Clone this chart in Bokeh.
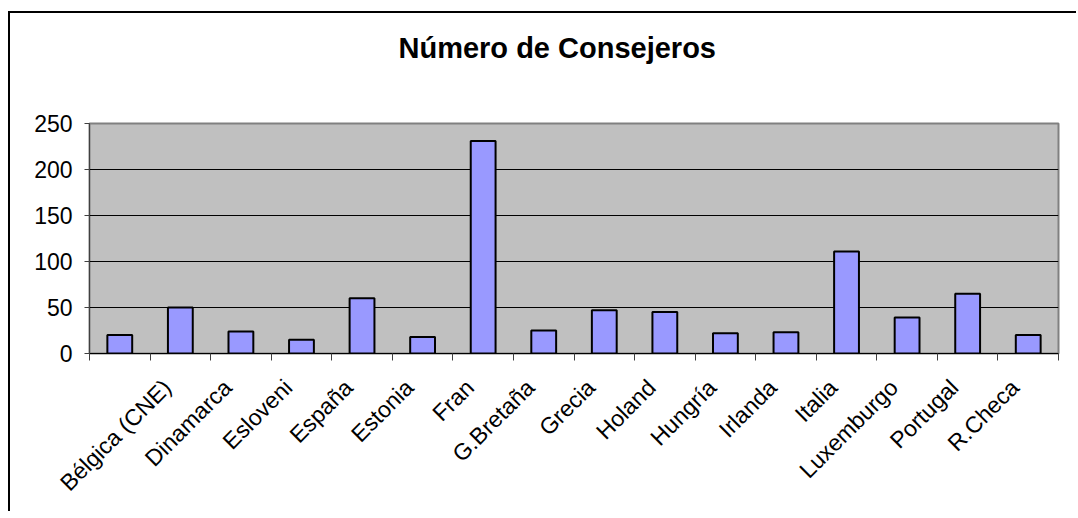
import math
from bokeh.plotting import figure
from bokeh.layouts import column
from bokeh.models import Range1d, LinearAxis, FixedTicker, ColumnDataSource, Title
from bokeh.embed import file_html
from bokeh.resources import INLINE

# ---- data ----
categories = [" ", "Bélgica (CNE)", "Dinamarca", "Esloveni", "España", "Estonia",
              "Fran", "G.Bretaña", "Grecia", "Holand", "Hungría", "Irlanda",
              "Italia", "Luxemburgo", "Portugal", "R.Checa"]
values = [20, 50, 24, 15, 60, 18, 231, 25, 47, 45, 22, 23, 111, 39, 65, 20]
y_ticks = [0, 50, 100, 150, 200, 250]
title_text = "Número de Consejeros"

FONT = "Liberation Sans"
n = len(categories)
centers = [i + 0.5 for i in range(n)]
label_dx = 0.22          # label anchor nudged left of bar centre (style)
label_pos = [c - label_dx for c in centers]

src = ColumnDataSource(dict(x=centers, val=values, cat=categories))

p = figure(width=1080, height=500,
           x_range=Range1d(0, n), y_range=Range1d(0, 250),
           output_backend="svg", toolbar_location=None,
           x_axis_type=None, title_location=None,
           min_border_left=79, min_border_right=20,
           min_border_top=110, min_border_bottom=160,
           background_fill_color="#C0C0C0", border_fill_color="white",
           outline_line_color="#808080", outline_line_width=2)

# invisible spacer between frame and title
spacer = LinearAxis(ticker=FixedTicker(ticks=[0]), major_label_overrides={0: ""},
                    major_tick_out=55, major_tick_in=0,
                    major_tick_line_color=None, axis_line_color=None,
                    minor_tick_line_color=None, major_label_text_font_size="0px",
                    major_label_standoff=0)
p.add_layout(spacer, "above")

# title (outside the spacer)
p.add_layout(Title(text=title_text, text_font=FONT, text_font_size="29px",
                   text_font_style="bold", text_color="black",
                   align="left", offset=309), "above")

# y axis
p.yaxis.ticker = FixedTicker(ticks=y_ticks)
p.yaxis.minor_tick_line_color = None
p.yaxis.major_tick_out = 5
p.yaxis.major_tick_in = 0
p.yaxis.major_label_standoff = 12
p.yaxis.major_label_text_font = FONT
p.yaxis.major_label_text_font_size = "23px"
p.yaxis.major_label_text_color = "black"
p.yaxis.axis_line_color = "#404040"
p.yaxis.major_tick_line_color = "#404040"

p.ygrid.grid_line_color = "black"
p.ygrid.grid_line_width = 1

# boundary tick marks on x
tick_axis = LinearAxis(ticker=FixedTicker(ticks=list(range(n + 1))),
                       major_label_overrides={i: "" for i in range(n + 1)},
                       major_label_text_font_size="0px",
                       major_label_standoff=0,
                       major_tick_out=7, major_tick_in=0,
                       minor_tick_line_color=None,
                       axis_line_color="black", major_tick_line_color="#404040")
p.add_layout(tick_axis, "below")

# category labels
cat_axis = LinearAxis(ticker=FixedTicker(ticks=label_pos),
                      major_label_overrides={c: lab for c, lab in zip(label_pos, categories)},
                      major_label_orientation=math.pi / 4,
                      major_tick_line_color=None, axis_line_color=None,
                      minor_tick_line_color=None,
                      major_label_text_font=FONT,
                      major_label_text_font_size="23px",
                      major_label_text_color="black",
                      major_label_standoff=17)
p.add_layout(cat_axis, "below")

p.vbar(x="x", top="val", width=0.41, source=src,
       fill_color="#9999FF", line_color="black", line_width=2)

# chart-area frame: wrapper clips the figure at the window edge
layout = column(p, width=1068, height=500,
                styles={"margin-left": "10px", "margin-top": "13px",
                        "box-shadow": "-2px -2px 0px 0px black",
                        "overflow": "hidden"})

open("out.html", "w").write(file_html(layout, INLINE))
